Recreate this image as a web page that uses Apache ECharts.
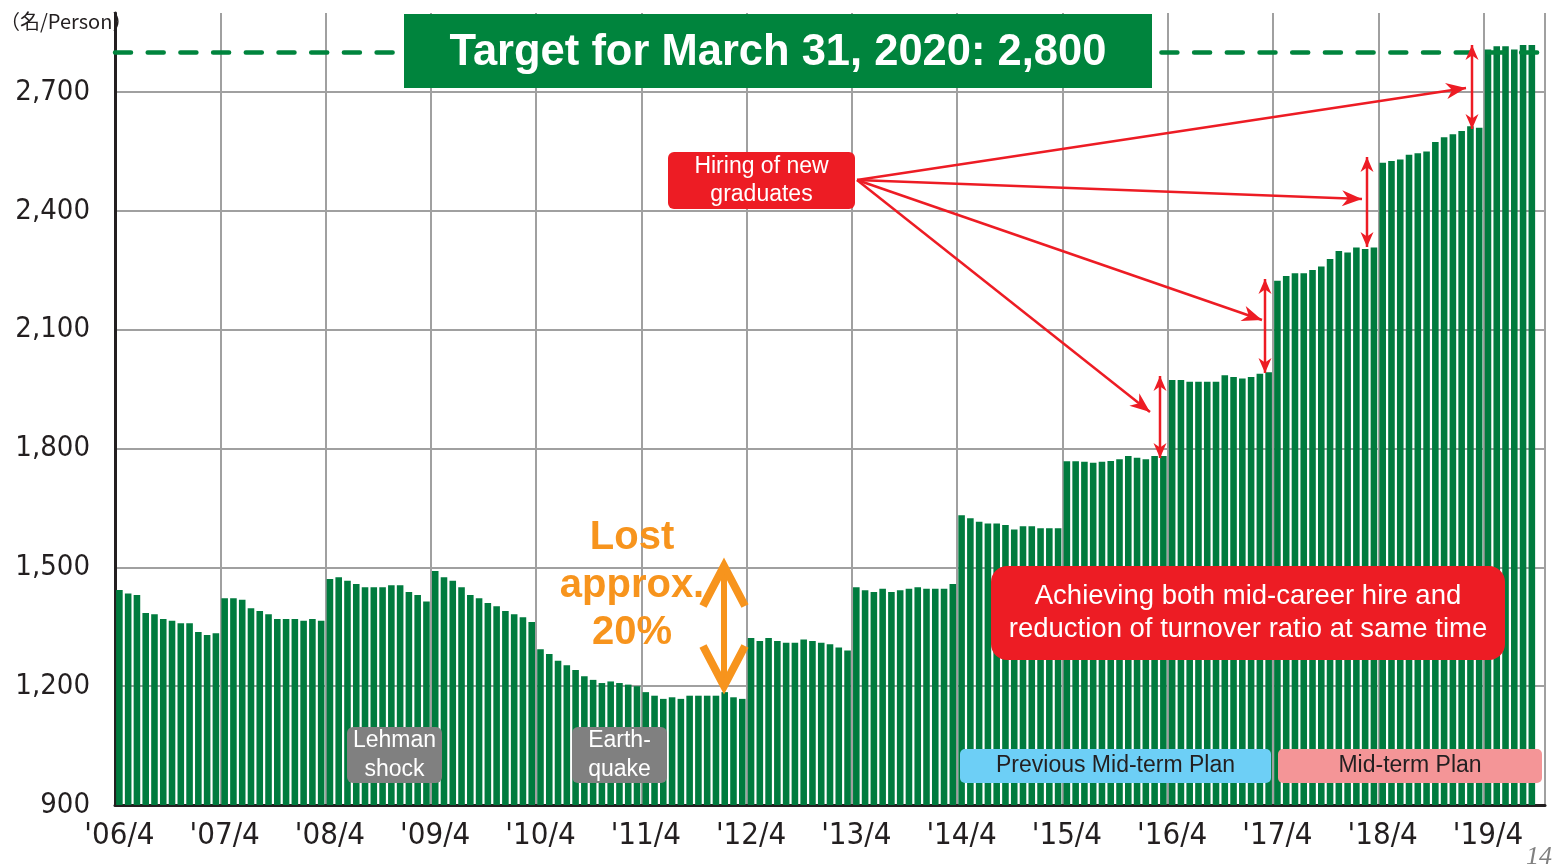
<!DOCTYPE html>
<html>
<head>
<meta charset="utf-8">
<style>
  html, body { margin: 0; padding: 0; background: #fff; }
  #chart { width: 1554px; height: 867px; }
</style>
<script src="https://cdn.jsdelivr.net/npm/echarts@6/dist/echarts.min.js"></script>
</head>
<body>
<div id="chart"></div>
<script>
// headcount by fiscal year, monthly from April
var fy2006 = [1443, 1434, 1430, 1385, 1382, 1370, 1365, 1359, 1359, 1337, 1329, 1334];
var fy2007 = [1422, 1422, 1418, 1397, 1390, 1382, 1370, 1370, 1370, 1365, 1370, 1365];
var fy2008 = [1471, 1475, 1466, 1458, 1450, 1450, 1450, 1455, 1455, 1438, 1430, 1414];
var fy2009 = [1491, 1475, 1466, 1450, 1430, 1422, 1410, 1402, 1390, 1382, 1374, 1362];
var fy2010 = [1293, 1281, 1264, 1253, 1241, 1225, 1216, 1208, 1212, 1208, 1204, 1200];
var fy2011 = [1185, 1176, 1168, 1172, 1168, 1176, 1176, 1176, 1176, 1185, 1172, 1168];
var fy2012 = [1322, 1314, 1322, 1314, 1310, 1310, 1318, 1314, 1310, 1306, 1298, 1290];
var fy2013 = [1450, 1442, 1438, 1446, 1438, 1442, 1446, 1450, 1446, 1446, 1446, 1458];
var fy2014 = [1632, 1624, 1615, 1611, 1611, 1607, 1596, 1604, 1604, 1599, 1599, 1599];
var fy2015 = [1768, 1768, 1767, 1764, 1767, 1769, 1773, 1781, 1777, 1773, 1781, 1781];
var fy2016 = [1973, 1973, 1969, 1969, 1969, 1969, 1985, 1981, 1977, 1981, 1989, 1993];
var fy2017 = [2224, 2236, 2243, 2243, 2251, 2260, 2279, 2299, 2295, 2308, 2304, 2308];
var fy2018 = [2522, 2526, 2530, 2542, 2546, 2550, 2574, 2586, 2594, 2602, 2614, 2610];
var fy2019 = [2808, 2816, 2816, 2808, 2819, 2819, null];

var target = 2800;
var yTicks = { min: 900, max: 2900, step: 300 };

var values = [].concat(fy2006, fy2007, fy2008, fy2009, fy2010, fy2011, fy2012,
  fy2013, fy2014, fy2015, fy2016, fy2017, fy2018, fy2019);

// month categories 2006/4 ...
var months = [];
for (var i = 0; i < values.length; i++) {
  var m = 4 + i;
  var y = 2006 + Math.floor((m - 1) / 12);
  months.push(y + '/' + (((m - 1) % 12) + 1));
}

var green = '#007b3e';
var darkGreen = '#00843d';
var red = '#ed1c24';
var orange = '#f7941d';
var grid = '#a0a0a0';
var narrow = "'DejaVu Sans Condensed', 'Liberation Sans Narrow', sans-serif";
var sans = "'Liberation Sans', Arial, sans-serif";

function head(tx, ty, fx, fy, len, hw, notch, color) {
  var dx = tx - fx, dy = ty - fy;
  var d = Math.sqrt(dx * dx + dy * dy);
  var ux = dx / d, uy = dy / d, nx = -uy, ny = ux;
  var bx = tx - ux * len, by = ty - uy * len;
  return {
    type: 'polygon', z: 20,
    shape: { points: [[tx, ty], [bx + nx * hw, by + ny * hw],
      [tx - ux * len * notch, ty - uy * len * notch], [bx - nx * hw, by - ny * hw]] },
    style: { fill: color }
  };
}

function arrow(x1, y1, x2, y2, both, len, hw) {
  var out = [{
    type: 'line', z: 20,
    shape: { x1: x1, y1: y1, x2: x2, y2: y2 },
    style: { stroke: red, lineWidth: 2.5 }
  }];
  out.push(head(x2, y2, x1, y1, len, hw, 0.7, red));
  if (both) out.push(head(x1, y1, x2, y2, len, hw, 0.7, red));
  return out;
}

function box(x, y, w, h, r, fill, text, size, color, lh, weight, dy) {
  return [{
    type: 'rect', z: 20,
    shape: { x: x, y: y, width: w, height: h, r: r },
    style: { fill: fill }
  }, {
    type: 'text', z: 21, x: x + w / 2, y: y + h / 2 + (dy || 0),
    style: { text: text, fill: color, fontSize: size, fontFamily: sans,
      fontWeight: weight || 'normal',
      align: 'center', verticalAlign: 'middle', lineHeight: lh || size }
  }];
}

var graphics = [];
graphics.push({
  type: 'text', z: 21, x: 0, y: 21,
  style: { text: '（名/Person）', fill: '#231f20', fontSize: 20,
    fontFamily: "'Noto Sans CJK JP', sans-serif", verticalAlign: 'middle' }
});
graphics = graphics.concat(box(404, 14, 748, 74, 0, darkGreen, 'Target for March 31, 2020: 2,800', 43.5, '#fff', 48, 'bold', 2));
graphics = graphics.concat(box(668, 152, 187, 57, 6, red, 'Hiring of new\ngraduates', 23, '#fff', 28));
graphics = graphics.concat(box(991, 566, 514, 94, 16, red,
  'Achieving both mid-career hire and\nreduction of turnover ratio at same time', 27.5, '#fff', 33));
graphics = graphics.concat(box(347, 727, 95, 56, 6, '#808080', 'Lehman\nshock', 23, '#fff', 29));
graphics = graphics.concat(box(572, 727, 95, 56, 6, '#808080', 'Earth-\nquake', 23, '#fff', 29));
graphics = graphics.concat(box(960, 749, 311, 34, 5, '#6dcff6', 'Previous Mid-term Plan', 23, '#231f20'));
graphics = graphics.concat(box(1278, 749, 264, 34, 5, '#f49597', 'Mid-term Plan', 23, '#231f20'));

// hiring arrows
graphics = graphics.concat(arrow(857, 180, 1466, 88, false, 20, 8));
graphics = graphics.concat(arrow(857, 180, 1362, 199, false, 20, 8));
graphics = graphics.concat(arrow(857, 180, 1262, 320, false, 20, 8));
graphics = graphics.concat(arrow(857, 180, 1150, 412, false, 20, 8));
graphics = graphics.concat(arrow(1160, 376, 1160, 458, true, 15, 6.5));
graphics = graphics.concat(arrow(1265, 279, 1265, 373, true, 15, 6.5));
graphics = graphics.concat(arrow(1367, 157, 1367, 247, true, 15, 6.5));
graphics = graphics.concat(arrow(1472, 45, 1472, 129, true, 15, 6.5));

// lost approx 20%
['Lost', 'approx.', '20%'].forEach(function(t, k) {
  graphics.push({
    type: 'text', z: 21, x: 632, y: 538 + k * 47.5,
    style: { text: t, fill: orange, fontSize: 40, fontWeight: 'bold', fontFamily: sans,
      align: 'center', verticalAlign: 'middle' }
  });
});
graphics.push({ type: 'line', z: 20, shape: { x1: 724, y1: 568, x2: 724, y2: 684 },
  style: { stroke: orange, lineWidth: 6 } });
graphics.push({ type: 'polyline', z: 20, shape: { points: [[703, 606], [724, 566], [745, 606]] },
  style: { stroke: orange, lineWidth: 8, fill: null } });
graphics.push({ type: 'polyline', z: 20, shape: { points: [[703, 646], [724, 686], [745, 646]] },
  style: { stroke: orange, lineWidth: 8, fill: null } });

graphics.push({
  type: 'text', z: 21, x: 1526, y: 857,
  style: { text: '14', fill: '#808080', fontSize: 26, fontStyle: 'italic',
    fontFamily: "'Liberation Serif', serif", verticalAlign: 'middle' }
});

var chart = echarts.init(document.getElementById('chart'), null, { renderer: 'canvas' });
chart.setOption({
  animation: false,
  grid: { left: 115, right: 9, top: 13, bottom: 62 },
  xAxis: {
    type: 'category',
    data: months,
    boundaryGap: true,
    axisLine: { lineStyle: { color: '#231f20', width: 3 } },
    axisTick: { show: false },
    axisLabel: {
      interval: function(idx) { return idx % 12 === 0; },
      formatter: function(v) { return "'" + v.slice(2); },
      color: '#231f20', fontSize: 31, fontFamily: narrow, margin: 15
    },
    splitLine: {
      show: true,
      interval: function(idx) { return idx % 12 === 0 && idx > 0; },
      lineStyle: { color: grid, width: 2 }
    }
  },
  yAxis: {
    type: 'value',
    min: yTicks.min, max: yTicks.max, interval: yTicks.step,
    axisLine: { show: true, lineStyle: { color: '#231f20', width: 3 } },
    axisTick: { show: false },
    axisLabel: {
      showMaxLabel: false,
      formatter: function(v) { return v.toLocaleString('en-US'); },
      color: '#231f20', fontSize: 29, fontFamily: narrow, margin: 25
    },
    splitLine: { show: true, showMaxLine: false, lineStyle: { color: grid, width: 2 } }
  },
  series: [{
    type: 'bar',
    data: values,
    barCategoryGap: '25%',
    itemStyle: { color: green },
    markLine: {
      silent: true,
      symbol: 'none',
      label: { show: false },
      lineStyle: { color: darkGreen, width: 4.5, type: [16, 16.7], cap: 'round' },
      data: [{ yAxis: target }]
    }
  }],
  graphic: graphics
});
</script>
</body>
</html>
